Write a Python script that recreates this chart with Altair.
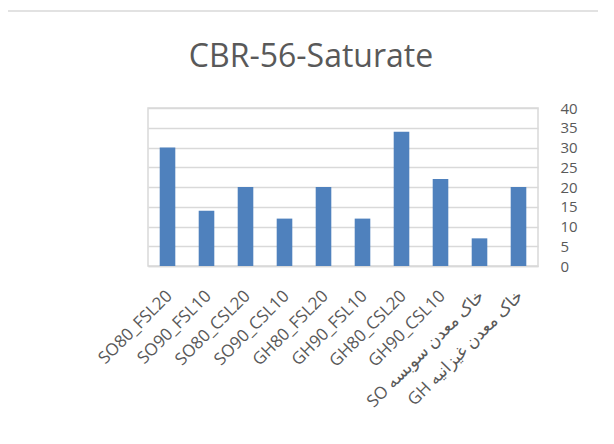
import altair as alt
import pandas as pd

categories = ["SO80_FSL20", "SO90_FSL10", "SO80_CSL20", "SO90_CSL10",
              "GH80_FSL20", "GH90_FSL10", "GH80_CSL20", "GH90_CSL10",
              "\u202bخاک معدن سوبسه SO\u202c", "\u202bخاک معدن غیزانیه GH\u202c"]
values = [30, 14, 20, 12, 20, 12, 34, 22, 7, 20]
y_ticks = [0, 5, 10, 15, 20, 25, 30, 35, 40]

df = pd.DataFrame({"cat": categories, "val": values})
FONT = "Open Sans, DejaVu Sans, sans-serif"
GREY = "#595959"
GRID = "#d9d9d9"

border = alt.Chart(pd.DataFrame({"k": [0]})).mark_rect(
    fill=None, stroke=GRID, strokeWidth=1.5
).encode(
    x=alt.value(-142), x2=alt.value(480), y=alt.value(-97), y2=alt.value(340)
)

bars = alt.Chart(df).mark_bar(color="#4F81BD", width={"band": 0.4}).encode(
    x=alt.X("cat:N", sort=categories, title=None,
            scale=alt.Scale(paddingInner=0, paddingOuter=0),
            axis=alt.Axis(bandPosition=0, labelOffset=2, labelAngle=-45,
                          labelAlign="right", labelBaseline="middle",
                          labelFontSize=17, labelColor=GREY, labelFont=FONT,
                          ticks=False, domainColor=GRID, domainWidth=1.5,
                          gridColor=GRID, gridWidth=1.5, labelPadding=27,
                          labelLimit=300)),
    y=alt.Y("val:Q", title=None,
            scale=alt.Scale(domain=[0, 40]),
            axis=alt.Axis(orient="right", values=y_ticks, ticks=False,
                          domain=False, labelPadding=22, labelFontSize=15,
                          labelColor=GREY, labelFont=FONT, gridColor=GRID,
                          gridWidth=1.5, labelAlign="left"))
)

chart = alt.layer(border, bars).properties(
    width=390, height=158,
    padding={"left": 140, "top": 100, "right": 60, "bottom": 165},
    autosize=alt.AutoSizeParams(type="none"),
    title=alt.TitleParams("CBR-56-Saturate", fontSize=32, font=FONT,
                          color=GREY, fontWeight="normal", anchor="middle",
                          frame="group", dx=-32, offset=-89,
                          baseline="alphabetic"),
).configure_view(stroke=GRID, strokeWidth=1.5)

chart.save("out.html", embed_options={"renderer": "svg", "actions": False})
